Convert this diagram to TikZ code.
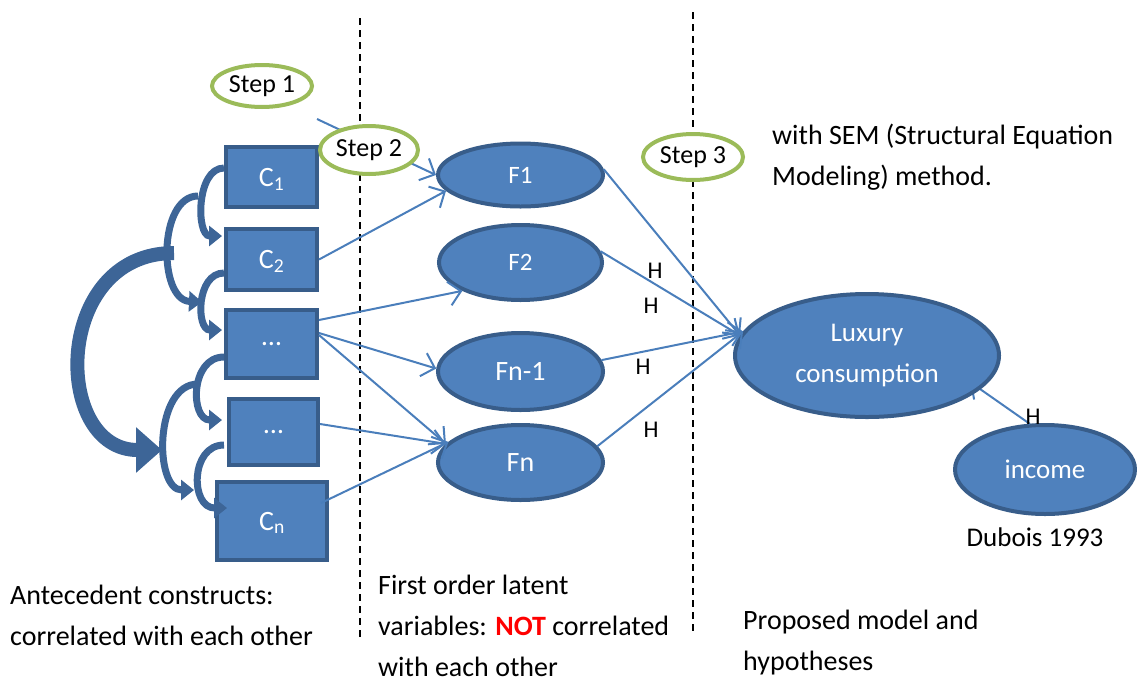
\documentclass[tikz,border=0pt]{standalone}
\usepackage{fontspec}
\setmainfont{Carlito}
\usetikzlibrary{shapes.geometric,arrows.meta}
\definecolor{fillblue}{HTML}{4F81BD}
\definecolor{edgeblue}{HTML}{385D8A}
\definecolor{lineblue}{HTML}{4A7EBB}
\definecolor{stepgreen}{HTML}{9BBB59}
\definecolor{arcblue}{HTML}{3D6597}
\definecolor{notred}{HTML}{FF0000}
\tikzset{
  cbox/.style={draw=edgeblue,fill=fillblue,line width=4pt,rectangle,inner sep=0pt,text=white,font=\fontsize{28}{30}\selectfont},
  fell/.style={draw=edgeblue,fill=fillblue,line width=4pt,ellipse,inner sep=0pt,text=white},
  stepell/.style={draw=stepgreen,fill=white,line width=4pt,ellipse,inner sep=0pt,font=\fontsize{26}{30}\selectfont},
  conn/.style={draw=lineblue,line width=2pt,-{Straight Barb[length=12pt,width=24pt,line width=2pt]}},
  divider/.style={draw=black,line width=1.6pt,dash pattern=on 7pt off 5pt},
  arc/.style={draw=arcblue,line width=7pt,-{Triangle[length=13pt,width=20pt]}},
  bigarc/.style={draw=arcblue,line width=14pt,-{Triangle[length=26pt,width=44pt]}},
  hlab/.style={font=\fontsize{24}{26}\selectfont,inner sep=0pt},
  body/.style={font=\fontsize{28}{41}\selectfont,align=left,inner sep=0pt,anchor=base west},
}
\begin{document}
\begin{tikzpicture}[x=1pt,y=-1pt]
\useasboundingbox (0,0) rectangle (1137,678);

% dividers
\draw[divider] (360,18) -- (360,640);
\draw[divider] (693,12) -- (693,632);

% C boxes
\node[cbox,minimum width=91pt,minimum height=60pt,text depth=-6pt] (c1) at (271.5,177) {C\textsubscript{1}};
\node[cbox,minimum width=91pt,minimum height=61pt,text depth=-6pt] (c2) at (271.5,259.5) {C\textsubscript{2}};
\node[cbox,minimum width=91pt,minimum height=68pt,text depth=-8pt] (d1) at (271.5,344) {…};
\node[cbox,minimum width=89pt,minimum height=66pt,text depth=-8pt] (d2) at (273.5,432) {…};
\node[cbox,minimum width=110pt,minimum height=78pt,text depth=-6pt] (cn) at (272,521) {C\textsubscript{n}};

% curved correlation arrows
\draw[arc] (224,168) .. controls (196,168) and (196,236) .. (222,236);
\draw[arc] (198,196) .. controls (158,196) and (158,300) .. (202,302);
\draw[arc] (224,273) .. controls (196,273) and (196,330) .. (222,330);
\draw[bigarc] (174,253) .. controls (52,253) and (52,450) .. (162,450);
\draw[arc] (224,357) .. controls (190,357) and (190,420) .. (222,420);
\draw[arc] (198,384) .. controls (154,384) and (154,490) .. (194,490);
\draw[arc] (224,445) .. controls (190,445) and (190,508) .. (227,508);

% F ellipses
\node[fell,minimum width=165pt,minimum height=63pt,font=\fontsize{25}{26}\selectfont] (f1) at (520.5,175) {F1};
\node[fell,minimum width=163pt,minimum height=75pt,font=\fontsize{25}{26}\selectfont] (f2) at (520.5,262.5) {F2};
\node[fell,minimum width=165pt,minimum height=77pt,font=\fontsize{28}{30}\selectfont] (fn1) at (520.5,371.5) {Fn-1};
\node[fell,minimum width=165pt,minimum height=75pt,font=\fontsize{28}{30}\selectfont] (fn) at (520.5,462.5) {Fn};

% connectors C -> F
\coordinate (s1) at (317,119);
\draw[conn] (s1) -- (f1.180);
\draw[conn] (c2.east) -- (f1.192);
\draw[conn] ([yshift=24pt]d1.east) -- (f2.206);
\draw[conn] ([yshift=11pt]d1.east) -- (fn1.178);
\draw[conn] ([yshift=9pt]d1.east) -- (fn.166);
\draw[conn] ([yshift=8pt]d2.east) -- (fn.166);
\draw[conn] ([yshift=18pt,xshift=-8pt]cn.east) -- (fn.164);

% income and luxury
\node[fell,minimum width=180pt,minimum height=89pt,font=\fontsize{27}{30}\selectfont] (inc) at (1045,469.5) {income};
\coordinate (luxtip) at (970,382);
\coordinate (incstart) at (1030,424);
\draw[conn] (incstart) -- (luxtip);
\node[fell,minimum width=264pt,minimum height=123pt,font=\fontsize{27}{41}\selectfont,align=center] (lux) at (867,355.5) {Luxury\\consumption};

% connectors F -> Luxury
\draw[conn] (f1.4) -- (lux.171);
\draw[conn] (f2.8) -- (lux.171);
\draw[conn] (fn1.8) -- (lux.169);
\draw[conn] (fn.12) -- (lux.169);

% H labels
\node[hlab] (h1) at (655,271) {H};
\node[hlab] (h2) at (651,306) {H};
\node[hlab] (h3) at (643,367) {H};
\node[hlab] (h4) at (651,430) {H};
\node[hlab] (h5) at (1033,417) {H};

% step ellipses
\node[stepell,minimum width=100pt,minimum height=42pt] (st1) at (262,86) {Step 1};
\node[stepell,minimum width=98pt,minimum height=48pt] (st2) at (369,150) {Step 2};
\node[stepell,minimum width=100pt,minimum height=46pt] (st3) at (693,157) {Step 3};

% texts (base anchor = last line baseline)
\node[body] (t1) at (772,185) {with SEM (Structural Equation\\Modeling) method.};
\node[body] (t2) at (10,645) {Antecedent constructs:\\correlated with each other};
\node[body] (t3) at (378,676) {First order latent\\variables: \textcolor{notred}{\textbf{NOT}} correlated\\with each other};
\node[body] (t4) at (743,670) {Proposed model and\\hypotheses};
\node[font=\fontsize{27}{30}\selectfont,inner sep=0pt] (dub) at (1035,537) {Dubois 1993};
\end{tikzpicture}
\end{document}
